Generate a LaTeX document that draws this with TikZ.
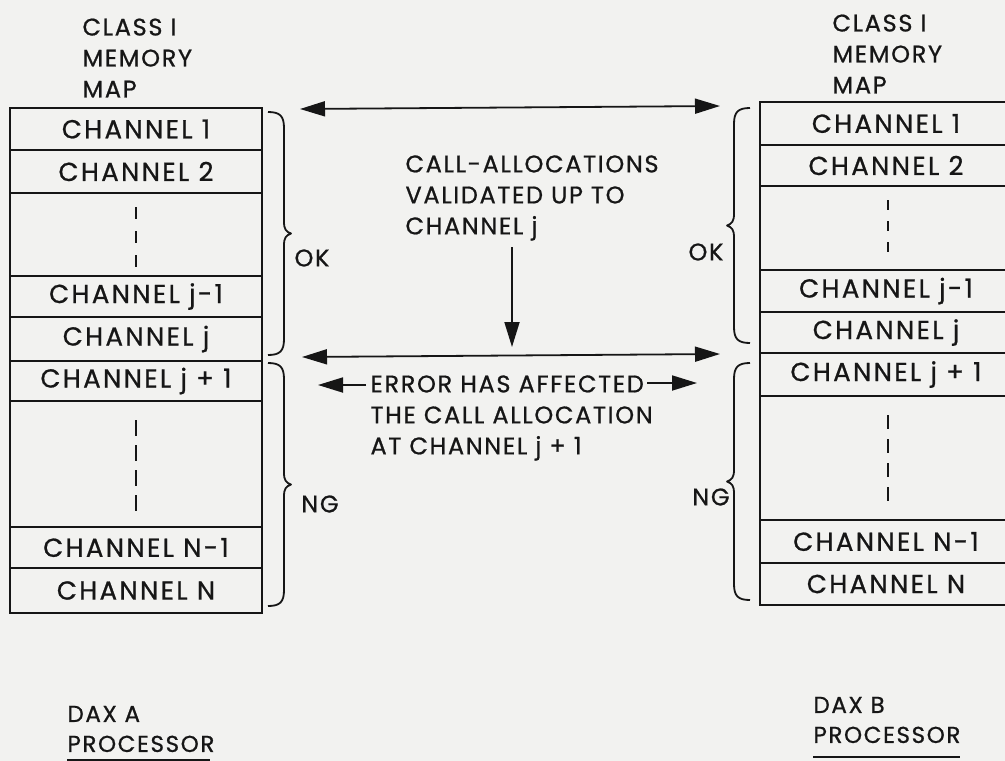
\documentclass[tikz,border=0pt]{standalone}
\usepackage{fontspec}
\setmainfont{Poppins}[LetterSpace=7.0,FakeBold=0.8]
\newfontfamily\chanfont{Poppins}[LetterSpace=9.0,FakeBold=0.8]
\usetikzlibrary{positioning,arrows.meta}
\definecolor{paper}{RGB}{242,242,240}
\definecolor{ink}{RGB}{22,22,22}
% x, top, bottom, side (1 = tip to the right, -1 = tip to the left)
\newcommand{\membrace}[4]{%
  \pgfmathsetmacro\brmid{(#2+#3)/2}
  \draw[brc] (#1,#2) .. controls ({#1+(#4)*12},#2) and ({#1+(#4)*16},#2+4) .. ({#1+(#4)*16},#2+16)
    -- ({#1+(#4)*16},\brmid-12) .. controls ({#1+(#4)*16},\brmid-4) and ({#1+(#4)*18},\brmid-2) .. ({#1+(#4)*23},\brmid)
    .. controls ({#1+(#4)*18},\brmid+2) and ({#1+(#4)*16},\brmid+4) .. ({#1+(#4)*16},\brmid+12)
    -- ({#1+(#4)*16},#3-16) .. controls ({#1+(#4)*16},#3-4) and ({#1+(#4)*12},#3) .. (#1,#3);}

\begin{document}
\begin{tikzpicture}[x=1pt,y=-1pt,ink,
  every node/.style={font=\fontsize{24}{31}\selectfont},
  chan/.style={draw,line width=1.8pt,minimum width=252pt,minimum height=#1,inner sep=0pt,outer sep=0pt,
    font=\chanfont\fontsize{26}{31}\selectfont},
  lbl/.style={align=left,anchor=west},
  dax/.style={lbl,font=\fontsize{23}{30}\selectfont},
  dots/.style={line width=2.4pt},
  brc/.style={line width=1.8pt,line join=round},
  tip/.style={-{Triangle[length=25pt,width=15pt]},line width=1.8pt},
  dbl/.style={{Triangle[length=25pt,width=15pt]}-{Triangle[length=25pt,width=15pt]},line width=1.8pt}]
\fill[paper] (0,0) rectangle (1005,761);
\useasboundingbox (0,0) rectangle (1005,761);

% DAX A
\node[lbl] (mapa) at (79,58) {CLASS I\\MEMORY\\MAP};
\node[chan=42pt,anchor=north west] (a1) at (10,108) {CHANNEL 1};
\node[chan=43pt,below=0pt of a1] (a2) {CHANNEL 2};
\node[chan=83pt,below=0pt of a2] (a3) {};
\node[chan=41pt,below=0pt of a3] (a4) {CHANNEL j-1};
\node[chan=44pt,below=0pt of a4] (a5) {CHANNEL j};
\node[chan=40pt,below=0pt of a5] (a6) {CHANNEL j + 1};
\node[chan=126pt,below=0pt of a6] (a7) {};
\node[chan=41pt,below=0pt of a7] (a8) {CHANNEL N-1};
\node[chan=45pt,below=0pt of a8] (a9) {CHANNEL N};
\draw[dots,dash pattern=on 12pt off 12pt] (136,207) -- (136,267);
\draw[dots,dash pattern=on 16pt off 9pt] (136,420) -- (136,513);
\membrace{268}{112}{355}{1}
\membrace{268}{363}{606}{1}
\node (oka) at (312,258) {OK};
\node (nga) at (320,504) {NG};
\node[dax] (daxa) at (64,729) {DAX A\\PROCESSOR};
\draw[line width=2.2pt] (67,760.5) -- (210,760.5);

% DAX B
\node[lbl] (mapb) at (829,54) {CLASS I\\MEMORY\\MAP};
\node[chan=43pt,anchor=north west] (b1) at (760,102) {CHANNEL 1};
\node[chan=41pt,below=0pt of b1] (b2) {CHANNEL 2};
\node[chan=84pt,below=0pt of b2] (b3) {};
\node[chan=42pt,below=0pt of b3] (b4) {CHANNEL j-1};
\node[chan=41pt,below=0pt of b4] (b5) {CHANNEL j};
\node[chan=43pt,below=0pt of b5] (b6) {CHANNEL j + 1};
\node[chan=124pt,below=0pt of b6] (b7) {};
\node[chan=43pt,below=0pt of b7] (b8) {CHANNEL N-1};
\node[chan=42pt,below=0pt of b8] (b9) {CHANNEL N};
\draw[dots,dash pattern=on 10pt off 11pt] (888,200) -- (888,258);
\draw[dots,dash pattern=on 14pt off 10pt] (888,415) -- (888,503);
\membrace{750}{108}{343}{-1}
\membrace{750}{363}{600}{-1}
\node (okb) at (706,252) {OK};
\node (ngb) at (711,497) {NG};
\node[dax] (daxb) at (810,720) {DAX B\\PROCESSOR};
\draw[line width=2.2pt] (813,757) -- (960,757);

% exchange between the processors
\coordinate (t1) at (300,109); \coordinate (t2) at (720,106);
\coordinate (m1) at (302,357); \coordinate (m2) at (720,354);
\draw[dbl] (t1) -- (t2);
\draw[dbl] (m1) -- (m2);
\node[lbl] (valid) at (402,198) {CALL-ALLOCATIONS\\VALIDATED UP TO\\CHANNEL j};
\coordinate (v1) at (512,247); \coordinate (v2) at (512,347);
\draw[tip] (v1) -- (v2);
\node[lbl] (err) at (367,418) {ERROR HAS AFFECTED\\THE CALL ALLOCATION\\AT CHANNEL j + 1};
\coordinate (e1) at (366,385); \coordinate (e2) at (318,385);
\coordinate (e3) at (647,383); \coordinate (e4) at (697,383);
\draw[tip] (e1) -- (e2);
\draw[tip] (e3) -- (e4);
\end{tikzpicture}
\end{document}
